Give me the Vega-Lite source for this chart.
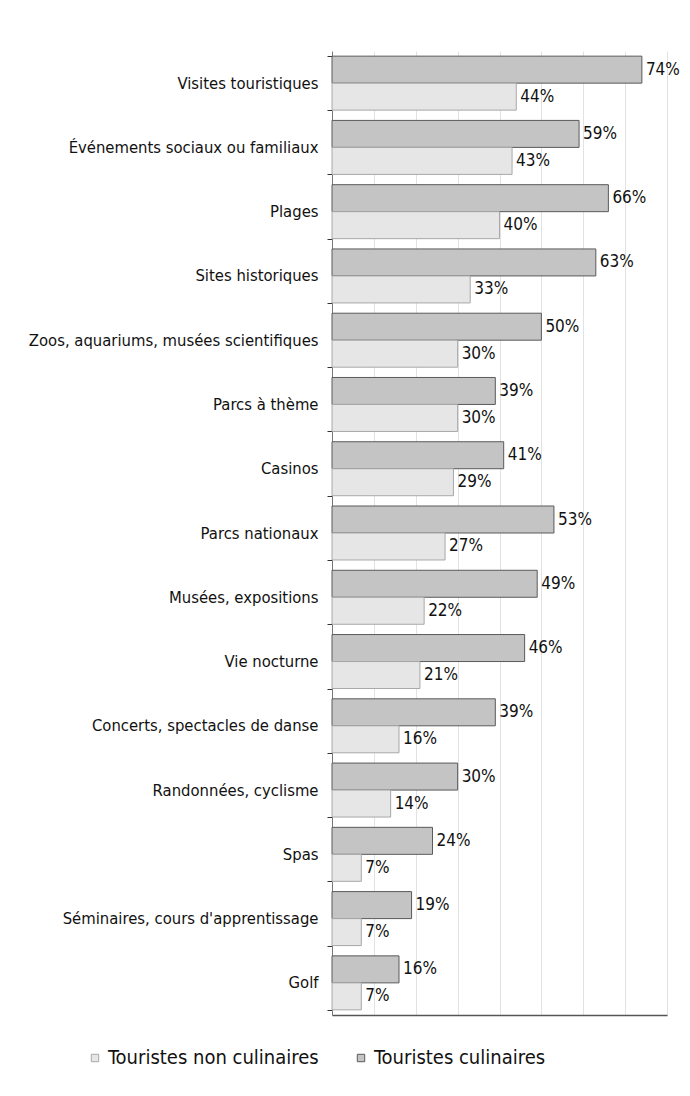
{
  "$schema": "https://vega.github.io/schema/vega-lite/v6.json",
  "autosize": "none",
  "padding": {"left": 332, "top": 51, "right": 23, "bottom": 81},
  "width": 335,
  "height": 964,
  "background": "white",
  "data": {"values": [
    {"cat": "Visites touristiques", "serie": "Touristes culinaires", "v": 74},
    {"cat": "Visites touristiques", "serie": "Touristes non culinaires", "v": 44},
    {"cat": "Événements sociaux ou familiaux ", "serie": "Touristes culinaires", "v": 59},
    {"cat": "Événements sociaux ou familiaux ", "serie": "Touristes non culinaires", "v": 43},
    {"cat": "Plages", "serie": "Touristes culinaires", "v": 66},
    {"cat": "Plages", "serie": "Touristes non culinaires", "v": 40},
    {"cat": "Sites historiques", "serie": "Touristes culinaires", "v": 63},
    {"cat": "Sites historiques", "serie": "Touristes non culinaires", "v": 33},
    {"cat": "Zoos, aquariums, musées scientifiques ", "serie": "Touristes culinaires", "v": 50},
    {"cat": "Zoos, aquariums, musées scientifiques ", "serie": "Touristes non culinaires", "v": 30},
    {"cat": "Parcs à thème", "serie": "Touristes culinaires", "v": 39},
    {"cat": "Parcs à thème", "serie": "Touristes non culinaires", "v": 30},
    {"cat": "Casinos", "serie": "Touristes culinaires", "v": 41},
    {"cat": "Casinos", "serie": "Touristes non culinaires", "v": 29},
    {"cat": "Parcs nationaux", "serie": "Touristes culinaires", "v": 53},
    {"cat": "Parcs nationaux", "serie": "Touristes non culinaires", "v": 27},
    {"cat": "Musées, expositions", "serie": "Touristes culinaires", "v": 49},
    {"cat": "Musées, expositions", "serie": "Touristes non culinaires", "v": 22},
    {"cat": "Vie nocturne", "serie": "Touristes culinaires", "v": 46},
    {"cat": "Vie nocturne", "serie": "Touristes non culinaires", "v": 21},
    {"cat": "Concerts, spectacles de danse ", "serie": "Touristes culinaires", "v": 39},
    {"cat": "Concerts, spectacles de danse ", "serie": "Touristes non culinaires", "v": 16},
    {"cat": "Randonnées, cyclisme ", "serie": "Touristes culinaires", "v": 30},
    {"cat": "Randonnées, cyclisme ", "serie": "Touristes non culinaires", "v": 14},
    {"cat": "Spas", "serie": "Touristes culinaires", "v": 24},
    {"cat": "Spas", "serie": "Touristes non culinaires", "v": 7},
    {"cat": "Séminaires, cours d'apprentissage ", "serie": "Touristes culinaires", "v": 19},
    {"cat": "Séminaires, cours d'apprentissage ", "serie": "Touristes non culinaires", "v": 7},
    {"cat": "Golf", "serie": "Touristes culinaires", "v": 16},
    {"cat": "Golf", "serie": "Touristes non culinaires", "v": 7}
  ]},
  "transform": [{"calculate": "datum.v + '%'", "as": "label"}],
  "encoding": {
    "y": {
      "field": "cat", "type": "nominal", "sort": null, "title": null,
      "scale": {"paddingInner": 0.16, "paddingOuter": 0.08},
      "axis": {
        "domainColor": "#777", "tickColor": "#333", "tickBand": "extent", "tickSize": 5,
        "labelFont": "DejaVu Sans Condensed", "labelFontSize": 16.5, "labelColor": "#111",
        "labelPadding": 9, "labelLimit": 330
      }
    },
    "yOffset": {
      "field": "serie", "type": "nominal",
      "scale": {"domain": ["Touristes culinaires", "Touristes non culinaires"], "paddingInner": 0, "paddingOuter": 0}
    },
    "x": {
      "field": "v", "type": "quantitative", "title": null,
      "scale": {"domain": [0, 80], "nice": false},
      "axis": {
        "values": [0, 10, 20, 30, 40, 50, 60, 70, 80], "labels": false, "ticks": false,
        "grid": true, "gridColor": "#e2e2e2", "domainColor": "#555", "domainWidth": 1.5
      }
    }
  },
  "layer": [
    {
      "mark": {"type": "bar", "strokeWidth": 1},
      "encoding": {
        "color": {
          "field": "serie", "type": "nominal",
          "scale": {"domain": ["Touristes non culinaires", "Touristes culinaires"], "range": ["#e6e6e6", "#c4c4c4"]},
          "legend": {
            "title": null, "orient": "none", "direction": "horizontal",
            "legendX": -247, "legendY": 997,
            "symbolType": "square", "symbolSize": 55, "symbolStrokeColor": "#888", "symbolStrokeWidth": 1,
            "labelFont": "DejaVu Sans Condensed", "labelFontSize": 20, "labelColor": "#111",
            "columnPadding": 32, "labelOffset": 3, "labelLimit": 300
          }
        },
        "stroke": {
          "field": "serie", "type": "nominal",
          "scale": {"domain": ["Touristes non culinaires", "Touristes culinaires"], "range": ["#a8a8a8", "#5a5a5a"]},
          "legend": null
        }
      }
    },
    {
      "mark": {"type": "text", "align": "left", "baseline": "middle", "dx": 4, "font": "DejaVu Sans Condensed", "fontSize": 17, "color": "#111"},
      "encoding": {
        "text": {"field": "label", "type": "nominal"},
        "detail": {"field": "serie"}
      }
    }
  ],
  "config": {"view": {"stroke": null}}
}
